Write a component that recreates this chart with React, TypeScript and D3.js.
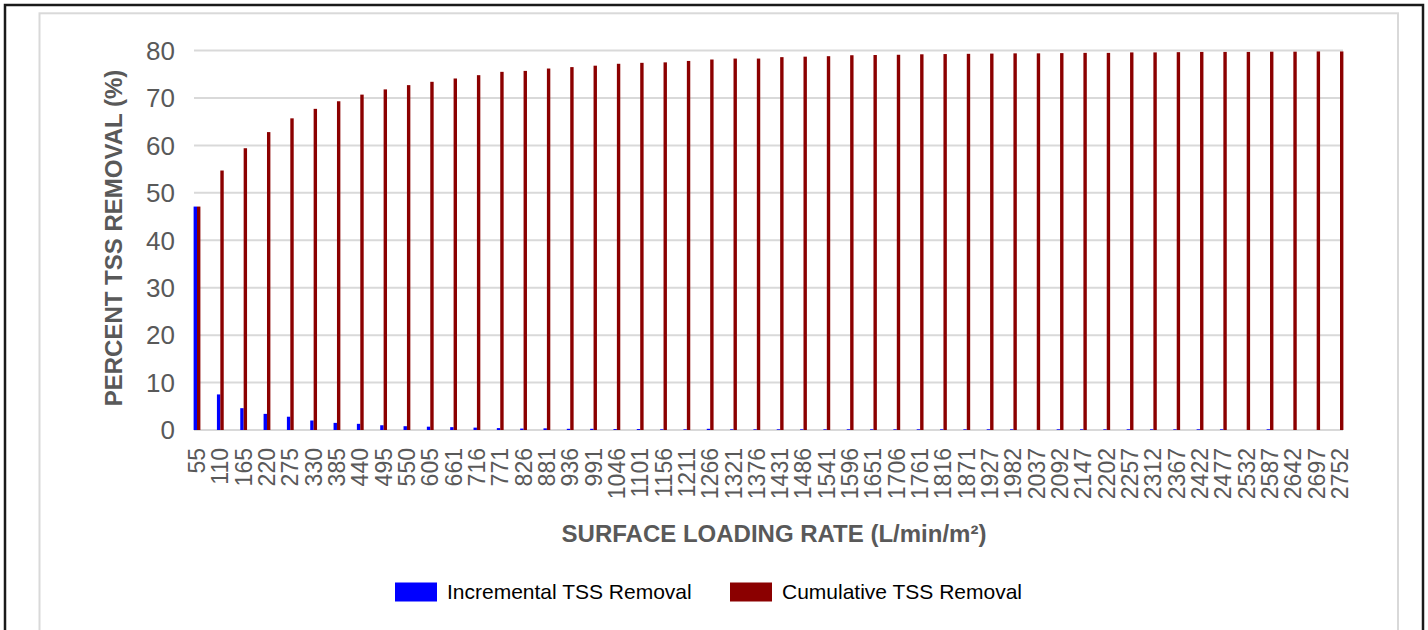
import React, { useEffect, useRef } from 'react';
import * as d3 from 'd3';

const loadingRates = [
  '55', '110', '165', '220', '275', '330', '385', '440', '495', '550',
  '605', '661', '716', '771', '826', '881', '936', '991', '1046', '1101',
  '1156', '1211', '1266', '1321', '1376', '1431', '1486', '1541', '1596', '1651',
  '1706', '1761', '1816', '1871', '1927', '1982', '2037', '2092', '2147', '2202',
  '2257', '2312', '2367', '2422', '2477', '2532', '2587', '2642', '2697', '2752',
];

const incremental = [
  47.1, 7.5, 4.6, 3.4, 2.8, 2.0, 1.5, 1.3, 1.0, 0.8,
  0.7, 0.6, 0.5, 0.4, 0.3, 0.35, 0.25, 0.25, 0.2, 0.2,
  0.15, 0.15, 0.25, 0.15, 0.15, 0.15, 0.15, 0.15, 0.15, 0.15,
  0.15, 0.15, 0.15, 0.15, 0.15, 0.15, 0.0, 0.15, 0.15, 0.15,
  0.15, 0.15, 0.15, 0.15, 0.15, 0.0, 0.15, 0.0, 0.0, 0.0,
];

const cumulative = [
  47.1, 54.7, 59.4, 62.8, 65.7, 67.7, 69.3, 70.7, 71.8, 72.7,
  73.4, 74.1, 74.8, 75.5, 75.7, 76.2, 76.5, 76.8, 77.2, 77.4,
  77.5, 77.8, 78.1, 78.3, 78.3, 78.6, 78.7, 78.8, 79.0, 79.05,
  79.1, 79.2, 79.25, 79.3, 79.35, 79.4, 79.4, 79.45, 79.5, 79.5,
  79.6, 79.6, 79.65, 79.7, 79.7, 79.7, 79.75, 79.75, 79.8, 79.8,
];

const yTicks = [0, 10, 20, 30, 40, 50, 60, 70, 80];

const seriesNames = ['Incremental TSS Removal', 'Cumulative TSS Removal'];
const seriesColors = ['#0000ff', '#8b0000'];

const FONT = '"Liberation Sans", Arial, sans-serif';

const App = () => {
  const ref = useRef<SVGSVGElement>(null);

  useEffect(() => {
    if (!ref.current) return;
    const svg = d3.select(ref.current);
    svg.selectAll('*').remove();

    // frames
    svg.append('rect')
      .attr('x', 5).attr('y', 5).attr('width', 1418).attr('height', 700)
      .attr('fill', '#fff').attr('stroke', '#1a1a1a').attr('stroke-width', 2.5);
    svg.append('rect')
      .attr('x', 39.5).attr('y', 13.3).attr('width', 1358.5).attr('height', 700)
      .attr('fill', 'none').attr('stroke', '#d9d9d9').attr('stroke-width', 2);

    const x = d3.scalePoint<string>().domain(loadingRates).range([197, 1340]);
    const sub = d3.scaleBand<string>().domain(['inc', 'cum']).range([-3.4, 3.4]);
    const y = d3.scaleLinear().domain([0, 80]).range([430, 50.5]);

    // gridlines
    svg.append('g').selectAll('line')
      .data(yTicks)
      .join('line')
      .attr('x1', 194).attr('x2', 1343)
      .attr('y1', d => y(d)).attr('y2', d => y(d))
      .attr('stroke', '#d9d9d9').attr('stroke-width', 2);

    // y tick labels
    svg.append('g').selectAll('text')
      .data(yTicks)
      .join('text')
      .attr('x', 175).attr('y', d => y(d))
      .attr('dy', '0.36em')
      .attr('text-anchor', 'end')
      .attr('font-family', FONT).attr('font-size', 26)
      .attr('fill', '#595959')
      .text(d => d);

    // bars
    const g = svg.append('g');
    loadingRates.forEach((r, i) => {
      const cx = x(r) as number;
      g.append('rect')
        .attr('x', cx + (sub('inc') as number))
        .attr('width', sub.bandwidth())
        .attr('y', y(incremental[i]))
        .attr('height', y(0) - y(incremental[i]))
        .attr('fill', seriesColors[0]);
      g.append('rect')
        .attr('x', cx + (sub('cum') as number))
        .attr('width', sub.bandwidth())
        .attr('y', y(cumulative[i]))
        .attr('height', y(0) - y(cumulative[i]))
        .attr('fill', seriesColors[1]);
    });

    // x tick labels
    svg.append('g').selectAll('text')
      .data(loadingRates)
      .join('text')
      .attr('transform', d => `translate(${(x(d) as number) + 8},448) rotate(-90)`)
      .attr('text-anchor', 'end')
      .attr('font-family', FONT).attr('font-size', 23)
      .attr('fill', '#595959')
      .text(d => d);

    // axis titles
    svg.append('text')
      .attr('x', 774).attr('y', 542)
      .attr('text-anchor', 'middle')
      .attr('font-family', FONT).attr('font-size', 24).attr('font-weight', 'bold')
      .attr('fill', '#595959')
      .text('SURFACE LOADING RATE (L/min/m²)');

    svg.append('text')
      .attr('transform', 'translate(122,238) rotate(-90)')
      .attr('text-anchor', 'middle')
      .attr('font-family', FONT).attr('font-size', 24).attr('font-weight', 'bold')
      .attr('fill', '#595959')
      .text('PERCENT TSS REMOVAL (%)');

    // legend
    const legendX = [395, 730];
    seriesNames.forEach((name, i) => {
      svg.append('rect')
        .attr('x', legendX[i]).attr('y', 582.5)
        .attr('width', 42).attr('height', 19)
        .attr('fill', seriesColors[i]);
      svg.append('text')
        .attr('x', legendX[i] + 52).attr('y', 599)
        .attr('font-family', FONT).attr('font-size', 21)
        .attr('fill', '#000')
        .text(name);
    });
  }, []);

  return (
    <svg ref={ref} width={1428} height={630}
      style={{ position: 'absolute', left: 0, top: 0, background: '#fff' }} />
  );
};

export default App;
